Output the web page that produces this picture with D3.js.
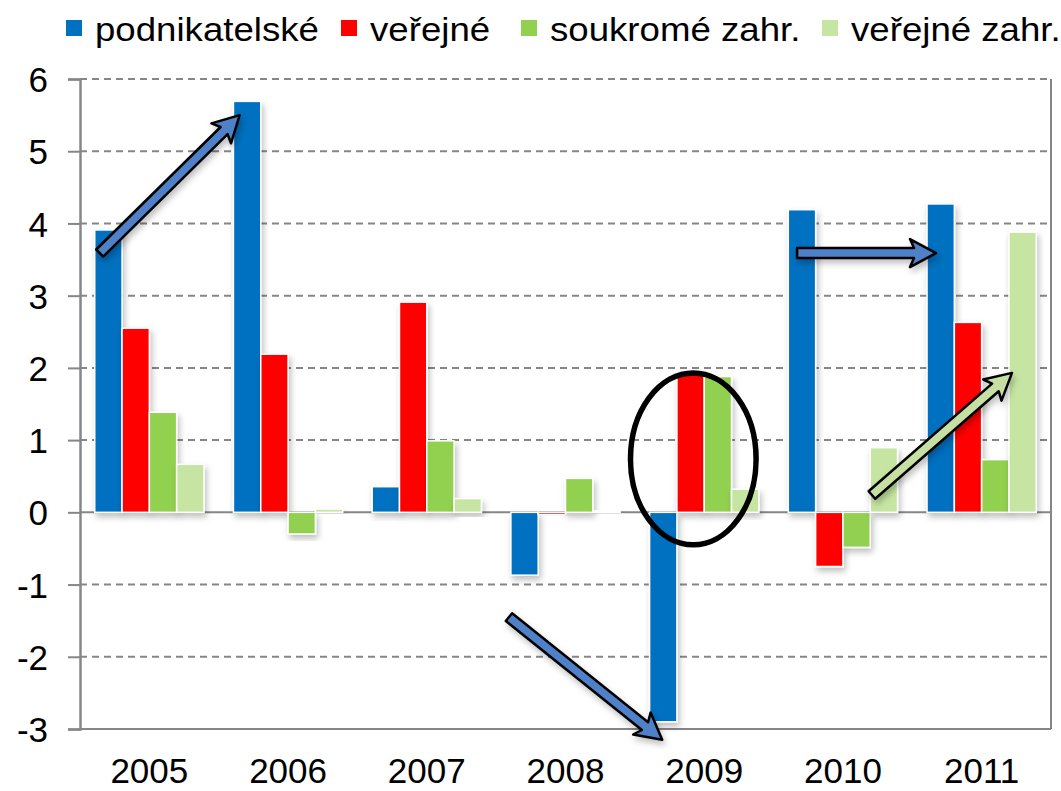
<!DOCTYPE html>
<html><head><meta charset="utf-8">
<script src="https://cdn.jsdelivr.net/npm/d3@7"></script>
<style>body{margin:0;background:#fff}svg{display:block}text{font-family:"Liberation Sans",Arial,sans-serif}</style>
</head><body><svg id="c" width="1061" height="791"></svg>
<script>
const years = ["2005","2006","2007","2008","2009","2010","2011"];
const seriesNames = ["podnikatelské","veřejné","soukromé zahr.","veřejné zahr."];
const seriesColors = ["#0070C0","#FF0000","#92D050","#C6E5A2"];
const podnikatelske = [3.91, 5.69, 0.355, -0.87, -2.90, 4.19, 4.27];
const verejne = [2.55, 2.19, 2.91, -0.03, 1.94, -0.75, 2.63];
const soukromeZahr = [1.385, -0.30, 0.99, 0.47, 1.88, -0.485, 0.73];
const verejneZahr = [0.665, 0.045, 0.19, 0.02, 0.32, 0.895, 3.88];
const yTicks = [-3,-2,-1,0,1,2,3,4,5,6];
// annotations in data space: [year, seriesIndex, fraction of bar width, value]
const arrows = [
  {from:["2005",0,0.18,3.59], to:["2006",0,0.23,5.5], fill:"#4F81C9"},
  {from:["2008",0,-0.07,-1.45], to:["2009",0,0.46,-3.15], fill:"#4F81C9"},
  {from:["2010",0,0.32,3.59], to:["2011",0,0.33,3.59], fill:"#4F81C9"},
  {from:["2010",3,0.06,0.24], to:["2011",3,0.11,1.93], fill:"#C6E0A4"}
];
const ellipseNote = {year:"2009", series:1, frac:0.6, value:0.74, rxBands:2.3, ryValue:1.19};

const allSeries = [podnikatelske, verejne, soukromeZahr, verejneZahr];
const svg = d3.select("#c");
const L=80, R=1051, T=79, B=729;
const x0 = d3.scaleBand().domain(years).range([L,R]).padding(0);
const x1 = d3.scaleBand().domain(d3.range(4)).range([0,x0.bandwidth()]).paddingInner(0).paddingOuter(0.54);
const y = d3.scaleLinear().domain([-3,6]).range([B,T]);

const defs = svg.append("defs");
const f = defs.append("filter").attr("id","sh").attr("x","-30%").attr("y","-30%").attr("width","160%").attr("height","160%");
f.append("feDropShadow").attr("dx",2).attr("dy",4).attr("stdDeviation",3).attr("flood-color","#000").attr("flood-opacity",0.25);

// gridlines
const gridCol="#868686";
svg.append("g").selectAll("line").data(yTicks).join("line")
  .attr("x1",L).attr("x2",R).attr("y1",d=>y(d)).attr("y2",d=>y(d))
  .attr("stroke",gridCol).attr("stroke-width",2)
  .attr("stroke-dasharray",d=>(d===0||d===-3)?null:"7,5");
// y axis
const yAxis = d3.axisLeft(y).tickValues(yTicks).tickSize(12).tickPadding(20).tickFormat(d=>String(d));
const ga = svg.append("g").attr("transform",`translate(${L},0)`).call(yAxis);
ga.select(".domain").attr("stroke",gridCol).attr("stroke-width",2.5);
ga.selectAll(".tick line").attr("stroke",gridCol).attr("stroke-width",2);
ga.selectAll(".tick text").attr("font-size",35).attr("fill","#000").attr("font-family","Liberation Sans, Arial, sans-serif").attr("dy","0.36em");
// right border
svg.append("line").attr("x1",R).attr("x2",R).attr("y1",T).attr("y2",B).attr("stroke",gridCol).attr("stroke-width",2);

// bars
const groups = svg.append("g").selectAll("g").data(years).join("g")
  .attr("transform",d=>`translate(${x0(d)},0)`);
groups.selectAll("rect").data((yr,i)=>allSeries.map((s,k)=>({k,v:s[i]}))).join("rect")
  .attr("x",d=>x1(d.k)).attr("width",x1.bandwidth())
  .attr("y",d=>y(Math.max(0,d.v))).attr("height",d=>Math.abs(y(d.v)-y(0)))
  .attr("fill",d=>seriesColors[d.k]).attr("stroke","#fff").attr("stroke-width",1.5)
  .attr("filter","url(#sh)");

// x labels
svg.append("g").selectAll("text").data(years).join("text")
  .attr("x",d=>x0(d)+x0.bandwidth()/2).attr("y",783)
  .attr("text-anchor","middle").attr("font-size",35).text(d=>d);

// legend
const legX=[66,341,521,822];
const lg = svg.append("g").selectAll("g").data(seriesNames).join("g")
  .attr("transform",(d,i)=>`translate(${legX[i]},0)`);
lg.append("rect").attr("x",0).attr("y",20).attr("width",16).attr("height",16).attr("fill",(d,i)=>seriesColors[i]);
lg.append("text").attr("transform","translate(29,41) scale(1.11,1)").attr("font-size",33).text(d=>d);

// annotations
function pt(a){return [x0(a[0])+x1(a[1])+a[2]*x1.bandwidth(), y(a[3])];}
function arrowPath(p,q){
  const dx=q[0]-p[0], dy=q[1]-p[1], len=Math.hypot(dx,dy);
  const ux=dx/len, uy=dy/len, nx=-uy, ny=ux;
  const sw=5, hw=14, hl=22;
  const b=[q[0]-ux*hl, q[1]-uy*hl];
  const P=(x,y)=>x.toFixed(1)+","+y.toFixed(1);
  return "M"+P(p[0]+nx*sw,p[1]+ny*sw)+"L"+P(b[0]+nx*sw,b[1]+ny*sw)+"L"+P(b[0]+nx*hw-ux*4,b[1]+ny*hw-uy*4)+
    "L"+P(q[0],q[1])+"L"+P(b[0]-nx*hw-ux*4,b[1]-ny*hw-uy*4)+"L"+P(b[0]-nx*sw,b[1]-ny*sw)+"L"+P(p[0]-nx*sw,p[1]-ny*sw)+"Z";
}
svg.append("g").selectAll("path").data(arrows).join("path")
  .attr("d",d=>arrowPath(pt(d.from),pt(d.to)))
  .attr("fill",d=>d.fill).attr("stroke","#000").attr("stroke-width",2.5).attr("stroke-linejoin","round")
  .attr("filter","url(#sh)");
const ec = pt([ellipseNote.year,ellipseNote.series,ellipseNote.frac,ellipseNote.value]);
svg.append("ellipse").attr("cx",ec[0]).attr("cy",ec[1])
  .attr("rx",ellipseNote.rxBands*x1.bandwidth()).attr("ry",y(0)-y(ellipseNote.ryValue))
  .attr("fill","none").attr("stroke","#000").attr("stroke-width",5.5);
</script></body></html>
